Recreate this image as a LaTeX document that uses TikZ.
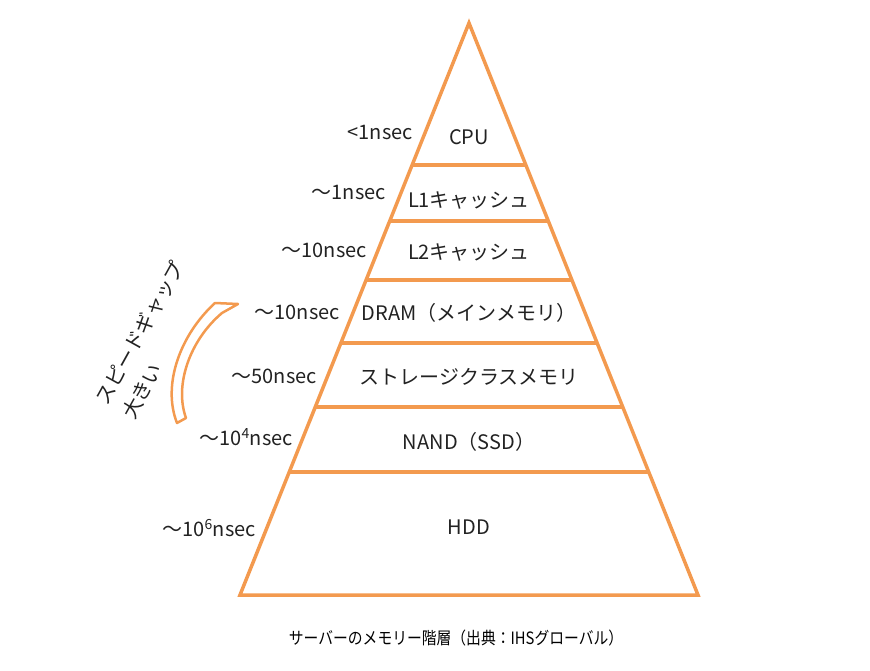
\documentclass[tikz,border=0pt]{standalone}
\usepackage{fontspec}
\setmainfont{Noto Sans CJK JP}
\usetikzlibrary{calc}

\definecolor{pyr}{HTML}{F39A4F}
\definecolor{ink}{HTML}{222222}

\begin{document}
\begin{tikzpicture}[x=1pt, y=-1pt,
        nodes={text=ink, font=\fontsize{20}{24}\selectfont, inner sep=0pt},
        tier/.style={draw=pyr, line width=3.5pt},
        lat/.style={anchor=east}]
    \useasboundingbox (0,0) rectangle (870,671);
    % pyramid
    \coordinate (top) at (469,23);
    \coordinate (bl) at (240,595);
    \coordinate (br) at (698,595);
    \draw[tier] (top) -- (bl) -- (br) -- cycle;
    \foreach \y [evaluate=\y as \t using (\y-23)/572] in {165,221,280,343,407,472}
        \draw[tier] ($(top)!\t!(bl)$) -- ($(top)!\t!(br)$);
    % layers
    \node (cpu) at (469,137) {CPU};
    \node (l1) at (469,200) {L1キャッシュ};
    \node (l2) at (469,252) {L2キャッシュ};
    \node (dram) at (469,313) {DRAM（メインメモリ）};
    \node (scm) at (469,377) {ストレージクラスメモリ};
    \node (nand) at (469,442) {NAND（SSD）};
    \node (hdd) at (469,527) {HDD};
    % latencies
    \node[lat] (t1) at (413,133) {<1nsec};
    \node[lat] (t2) at (386,193) {～1nsec};
    \node[lat] (t3) at (367,250) {～10nsec};
    \node[lat] (t4) at (340,312) {～10nsec};
    \node[lat] (t5) at (317,376) {～50nsec};
    \node[lat] (t6) at (293,437) {～10\textsuperscript{4}nsec};
    \node[lat] (t7) at (256,528) {～10\textsuperscript{6}nsec};
    % speed gap
    \draw[pyr, line width=2.5pt, line join=round] (215,303) .. controls (180,335) and (162,385) .. (177,423)
        -- (186,418) .. controls (174,385) and (190,340) .. (222,313) -- (238,304) -- cycle;
    \node[rotate=61, align=left, font=\fontsize{20}{30}\selectfont] (gap) at (153,340) {スピードギャップ\\大きい};
    % caption
    \node[font=\fontsize{17}{20}\selectfont, text=black, xscale=0.87] (cap) at (456,638) {サーバーのメモリー階層（出典：IHSグローバル）};
\end{tikzpicture}
\end{document}
